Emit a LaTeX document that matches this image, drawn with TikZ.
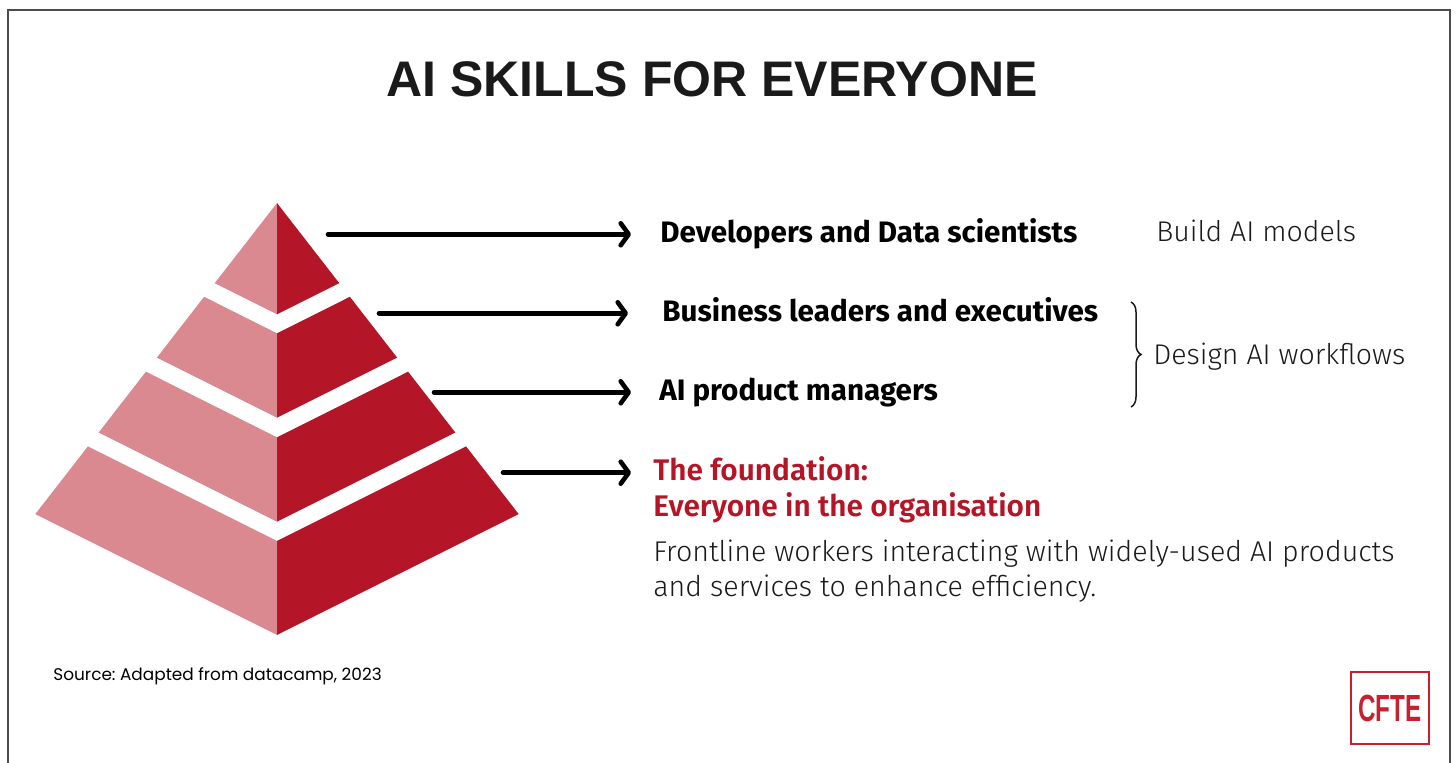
\documentclass[tikz,border=0pt]{standalone}
\usepackage{graphicx}
\usepackage{fontspec}
\setmainfont{Fira Sans Light}
\newfontfamily\titlefont{Liberation Sans}
\newfontfamily\labelfont{Fira Sans Bold}
\newfontfamily\redfont{Fira Sans SemiBold}
\newfontfamily\lightfont{Fira Sans Light}
\newfontfamily\srcfont{Poppins}
\usetikzlibrary{arrows.meta,decorations.pathreplacing}
\definecolor{pyrdark}{HTML}{B51627}
\definecolor{pyrlight}{HTML}{DB8990}
\definecolor{framegray}{HTML}{4D4D4D}
\definecolor{logored}{HTML}{C8202F}
\definecolor{inkblack}{HTML}{1A1A1A}
\frenchspacing
\tikzset{
  pyrarrow/.style={line width=2.3pt,line cap=round,
    -{Straight Barb[length=4pt,width=11pt,line cap=round,line join=round]}},
  lvllabel/.style={anchor=west,inner sep=0pt,text height=10.9pt,text depth=2.85pt,
    text=black,font=\labelfont\fontsize{14.8}{17}\selectfont},
  redlabel/.style={anchor=west,inner sep=0pt,text height=11.2pt,text depth=3pt,
    text=pyrdark,font=\redfont\fontsize{14.9}{18}\selectfont},
  bodytext/.style={anchor=base west,inner sep=0pt,text=inkblack,
    font=\lightfont\fontsize{14.3}{17}\selectfont},
  roletext/.style={anchor=base west,inner sep=0pt,text=inkblack,
    font=\lightfont\fontsize{14.25}{17}\selectfont}
}
\begin{document}
\begin{tikzpicture}[x=0.5pt,y=-0.5pt]
    \useasboundingbox (0,0) rectangle (1456,763);
    %% Frame
    \draw[framegray,line width=1.2pt] (7.8,763) -- (7.8,10.3) -- (1450,10.3) -- (1450,763);
    %% Title
    \node[anchor=base,inner sep=0pt,text=inkblack,font=\titlefont\bfseries\fontsize{25}{30}\selectfont] (title) at (712,97) {AI SKILLS FOR EVERYONE};
    %% Pyramid, top tier
    \fill[pyrlight] (277,203) -- (277,314.3) -- (214.7,283.2) -- cycle;
    \fill[pyrdark] (277,203) -- (277,314.3) -- (339.3,283.2) -- cycle;
    %% second tier
    \fill[pyrlight] (204.1,296.8) -- (277,333.3) -- (277,417.7) -- (156.9,357.6) -- cycle;
    \fill[pyrdark] (349.9,296.8) -- (277,333.3) -- (277,417.7) -- (397.1,357.6) -- cycle;
    %% third tier
    \fill[pyrlight] (145.9,371.7) -- (277,437.3) -- (277,521.7) -- (98.7,432.5) -- cycle;
    \fill[pyrdark] (408.1,371.7) -- (277,437.3) -- (277,521.7) -- (455.3,432.5) -- cycle;
    %% base tier
    \fill[pyrlight] (87.9,446.4) -- (277,541) -- (277,635) -- (35.3,514.1) -- cycle;
    \fill[pyrdark] (466.1,446.4) -- (277,541) -- (277,635) -- (518.7,514.1) -- cycle;
    %% Levels
    \node[lvllabel] (dev) at (660,234.3) {Developers and Data scientists};
    \node[lvllabel] (biz) at (662,313.3) {Business leaders and executives};
    \node[lvllabel] (apm) at (659,392.3) {AI product managers};
    \node[redlabel] (found) at (653,472.7) {The foundation:};
    \node[redlabel] (every) at (653,508.7) {Everyone in the organisation};
    \node[bodytext] (body1) at (653,562) {Frontline workers interacting with widely-used AI products};
    \node[bodytext] (body2) at (653,597) {and services to enhance efficiency.};
    %% Arrows
    \coordinate (a1) at (328,234.3);
    \coordinate (a2) at (379,313.3);
    \coordinate (a3) at (434,392.3);
    \coordinate (a4) at (503,472.7);
    \draw[pyrarrow,shorten >=14.5pt] (a1) -- (dev.west);
    \draw[pyrarrow,shorten >=17pt] (a2) -- (biz.west);
    \draw[pyrarrow,shorten >=14pt] (a3) -- (apm.west);
    \draw[pyrarrow,shorten >=11pt] (a4) -- (found.west);
    %% Roles
    \node[roletext] (build) at (1156,242) {Build AI models};
    \coordinate (bt) at (1131,302);
    \coordinate (bb) at (1131,407);
    \draw[inkblack,line width=0.75pt,decorate,decoration={brace,amplitude=5pt}] (bt) -- (bb);
    \node[roletext] (design) at (1153,365) {Design AI workflows};
    %% Source and logo
    \node[anchor=base west,inner sep=0pt,text=black,font=\srcfont\fontsize{8.45}{10}\selectfont] (src) at (53,681) {Source: Adapted from datacamp, 2023};
    \node[draw=logored,line width=0.8pt,minimum width=39pt,minimum height=36pt,inner sep=0pt,
      text=logored,font=\titlefont\bfseries\fontsize{18.9}{20}\selectfont] (logo) at (1390,708) {\scalebox{0.64}[1]{CFTE}};
\end{tikzpicture}
\end{document}
